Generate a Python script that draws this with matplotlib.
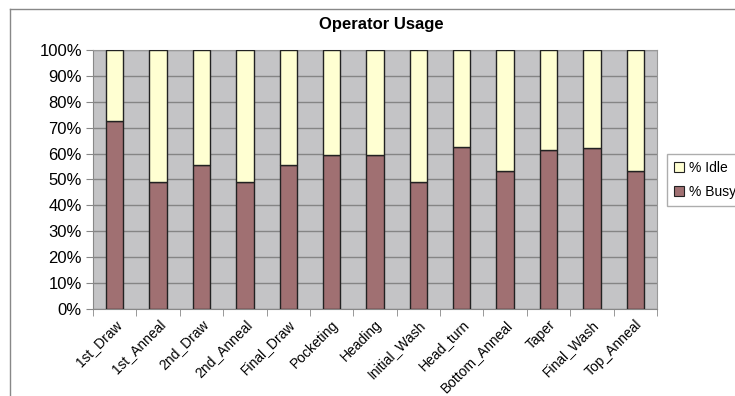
import matplotlib.pyplot as plt
import numpy as np
from matplotlib.lines import Line2D
from matplotlib.patches import Patch
from matplotlib.ticker import PercentFormatter, FixedLocator

plt.rcParams['font.family'] = ['Liberation Sans', 'DejaVu Sans']

operations = ['1st_Draw', '1st_Anneal', '2nd_Draw', '2nd_Anneal', 'Final_Draw',
              'Pocketing', 'Heading', 'Initial_Wash', 'Head_turn', 'Bottom_Anneal',
              'Taper', 'Final_Wash', 'Top_Anneal']
busy = [72.6, 48.9, 55.6, 48.9, 55.6, 59.5, 59.5, 48.9, 62.6, 53.4, 61.4, 62.0, 53.4]
idle = [100 - b for b in busy]

busy_color = '#A07072'
idle_color = '#FFFFD2'

fig = plt.figure(figsize=(7.35, 3.96), dpi=100)
ax = fig.add_axes([93 / 735, 1 - 309 / 396, (657 - 93) / 735, (309 - 50) / 396])

x = np.arange(len(operations))
ax.bar(x, busy, width=0.4, color=busy_color, edgecolor='#222222', linewidth=1, zorder=3)
ax.bar(x, idle, width=0.4, bottom=busy, color=idle_color, edgecolor='#222222', linewidth=1, zorder=3)

ax.set_facecolor('#C4C4C6')
ax.set_xlim(-0.5, len(operations) - 0.5)
ax.set_ylim(0, 100)
ax.set_yticks(np.arange(0, 101, 10))
ax.yaxis.set_major_formatter(PercentFormatter(decimals=0))
ax.grid(axis='y', color='#858585', linewidth=1, zorder=1)

ax.set_xticks(x)
ax.set_xticklabels(operations, rotation=45, ha='right', rotation_mode='anchor', fontsize=10)
ax.xaxis.set_minor_locator(FixedLocator(np.arange(-0.5, len(operations), 1)))
ax.tick_params(axis='x', which='major', length=0, pad=6)
ax.tick_params(axis='x', which='minor', length=5, color='#888888', direction='out')
ax.tick_params(axis='y', length=5, color='#888888', labelsize=12, pad=3)

for side in ['top', 'right']:
    ax.spines[side].set_color('#999999')
for side in ['left', 'bottom']:
    ax.spines[side].set_color('#888888')

fig.text(381 / 735, 1 - 25 / 396, 'Operator Usage', ha='center', va='center',
         fontsize=12, fontweight='bold')

# outer chart frame (only top and left visible)
fig.add_artist(Line2D([10 / 735, 10 / 735], [0, 1 - 9 / 396], color='#888888', linewidth=1))
fig.add_artist(Line2D([10 / 735, 1], [1 - 9 / 396, 1 - 9 / 396], color='#888888', linewidth=1))

handles = [Patch(facecolor=idle_color, edgecolor='#222222', linewidth=0.8),
           Patch(facecolor=busy_color, edgecolor='#222222', linewidth=0.8)]
leg = fig.legend(handles, ['% Idle', '% Busy'], loc='upper left',
                 bbox_to_anchor=(667 / 735, 1 - 154 / 396), fontsize=10,
                 frameon=True, fancybox=False, handlelength=0.7, handleheight=0.7,
                 handletextpad=0.4, borderpad=0.5, labelspacing=0.7, borderaxespad=0)
leg.get_frame().set_edgecolor('#999999')
leg.get_frame().set_linewidth(1)

fig.savefig('out.png', dpi=100)
